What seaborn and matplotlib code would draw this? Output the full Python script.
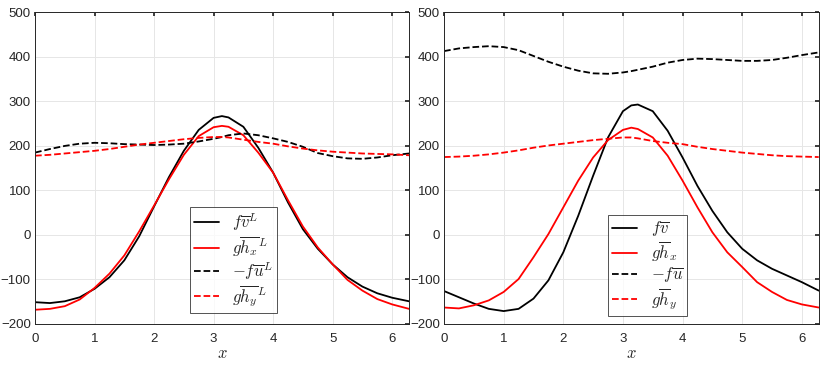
import numpy as np
import pandas as pd
import matplotlib
matplotlib.use("Agg")
import matplotlib.pyplot as plt
import seaborn as sns

# sample positions
x_grid = [0, 0.25, 0.5, 0.75, 1.0, 1.25, 1.5, 1.75, 2.0, 2.25, 2.5, 2.75, 3.0, 3.14,
          3.25, 3.5, 3.75, 4.0, 4.25, 4.5, 4.75, 5.0, 5.25, 5.5, 5.75, 6.0, 6.2832]

# left panel (Lagrangian means)
fvL = [-151, -153, -149, -140, -121, -95, -57, -3, 64, 130, 189, 236, 263, 267,
       264, 243, 196, 140, 73, 13, -31, -66, -95, -116, -131, -141, -149]
ghxL = [-168, -166, -160, -145, -119, -87, -46, 8, 66, 125, 180, 222, 242, 245,
        243, 224, 185, 140, 78, 19, -28, -66, -101, -125, -144, -156, -166]
fuL = [185, 193, 200, 205, 207, 206, 204, 203, 202, 203, 205, 210, 216, 220,
       224, 228, 224, 217, 209, 198, 184, 177, 172, 171, 174, 179, 183]
ghyL = [178, 180, 183, 186, 189, 193, 198, 203, 207, 211, 215, 218, 220, 220,
        219, 214, 209, 205, 199, 194, 190, 187, 185, 183, 182, 181, 179]

# right panel (Eulerian means)
fv = [-126, -140, -154, -166, -171, -166, -143, -102, -39, 43, 133, 219, 278, 291,
      293, 278, 234, 174, 110, 54, 6, -31, -57, -76, -91, -106, -125]
ghx = [-163, -165, -158, -147, -128, -99, -50, 2, 62, 122, 174, 213, 236, 241,
       238, 219, 178, 122, 62, 6, -39, -72, -106, -128, -146, -156, -163]
fu = [413, 419, 422, 424, 422, 415, 402, 389, 378, 369, 363, 362, 365, 368,
      371, 378, 387, 393, 396, 395, 393, 391, 391, 393, 398, 404, 410]
ghy = [175, 176, 178, 181, 185, 190, 196, 201, 205, 209, 213, 216, 219, 219,
       217, 211, 207, 204, 198, 193, 189, 185, 182, 179, 177, 176, 175]

labels_left = [r'$f\overline{v}^L$', r'$g\overline{h_x}^L$',
               r'$-f\overline{u}^L$', r'$g\overline{h_y}^L$']
labels_right = [r'$f\overline{v}$', r'$g\overline{h}_x$',
                r'$-f\overline{u}$', r'$g\overline{h}_y$']

sns.set_theme(style="white")
plt.rcParams['font.family'] = ['Liberation Sans', 'DejaVu Sans']
plt.rcParams['mathtext.fontset'] = 'cm'

fig = plt.figure(figsize=(8.3, 3.71), dpi=100)
ax1 = fig.add_axes([0.0422, 0.1267, 0.4506, 0.840])
ax2 = fig.add_axes([0.535, 0.1267, 0.4514, 0.840])

styles = [('black', '-'), ('red', '-'), ('black', '--'), ('red', '--')]


def draw(ax, series, labels, anchor):
    for ys, lab, (c, ls) in zip(series, labels, styles):
        df = pd.DataFrame({'x': x_grid, 'y': ys})
        sns.lineplot(data=df, x='x', y='y', ax=ax, color=c, linestyle=ls,
                     linewidth=1.3, label=lab, dashes=False)
    ax.set_xlim(0, 2 * np.pi)
    ax.set_ylim(-200, 500)
    ax.set_xticks(range(7))
    ax.set_yticks(range(-200, 501, 100))
    ax.grid(True, color='#e6e6e6', linewidth=0.7)
    ax.tick_params(direction='in', length=3, labelsize=9.5, colors='#262626',
                   top=True, right=True, pad=3)
    ax.tick_params(axis='x', pad=6.5)
    for s in ax.spines.values():
        s.set_color('#262626')
        s.set_linewidth(0.7)
    ax.set_xlabel(r'$x$', fontsize=12, labelpad=1)
    ax.set_ylabel('')
    leg = ax.legend(loc='lower left', bbox_to_anchor=anchor, fontsize=12,
                    frameon=True, fancybox=False, edgecolor='#262626',
                    handlelength=1.5, labelspacing=0.08, borderpad=0.25,
                    handletextpad=0.8, borderaxespad=0)
    leg.get_frame().set_linewidth(0.7)


draw(ax1, [fvL, ghxL, fuL, ghyL], labels_left, (0.414, 0.035))
draw(ax2, [fv, ghx, fu, ghy], labels_right, (0.438, 0.026))

fig.savefig('out.png', dpi=100)
